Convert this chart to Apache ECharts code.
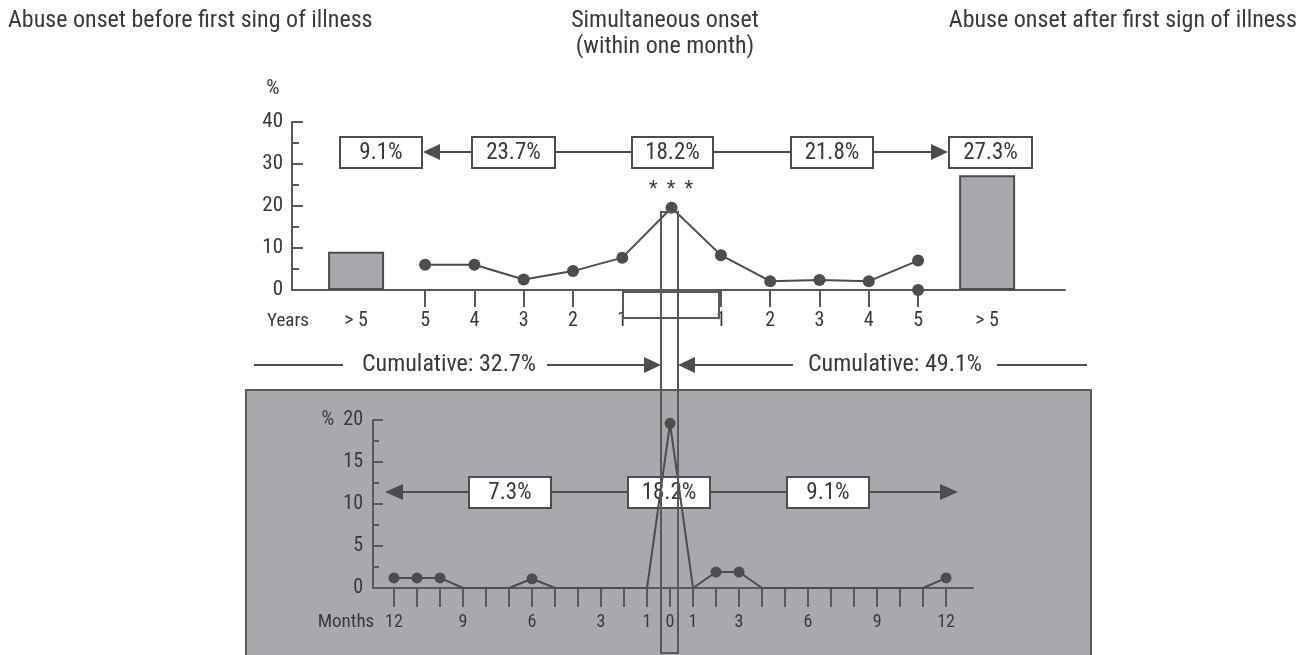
<!DOCTYPE html>
<html><head><meta charset="utf-8">
<script src="https://cdn.jsdelivr.net/npm/echarts@6/dist/echarts.min.js"></script>
<style>html,body{margin:0;padding:0;background:#fff}#c{width:1308px;height:655px}</style>
</head><body><div id="c"></div>
<script>
// ---------- data ----------
const yearsBefore = [-5, -4, -3, -2, -1];
const pctYearsBefore = [6.0, 6.0, 2.5, 4.5, 7.7];
const pctSimultaneous = 19.6;
const yearsAfter = [1, 2, 3, 4, 5];
const pctYearsAfter = [8.3, 2.1, 2.4, 2.1, 7.0];
const pctYear5AfterSecond = 0;
const pctOver5Before = 9.1;
const pctOver5After = 27.3;
const yearShareLabels = ['9.1%', '23.7%', '18.2%', '21.8%', '27.3%'];
const months = [-12,-11,-10,-9,-8,-7,-6,-5,-4,-3,-2,-1,0,1,2,3,4,5,6,7,8,9,10,11,12];
const pctMonths = [1.2,1.2,1.2,0,0,0,1.1,0,0,0,0,0,19.6,0,1.9,1.9,0,0,0,0,0,0,0,0,1.2];
const monthShareLabels = ['7.3%', '18.2%', '9.1%'];
const monthLabelValues = [-12,-9,-6,-3,-1,0,1,3,6,9,12];
const yearTickValues = [-5,-4,-3,-2,-1,1,2,3,4,5];
const cumulativeLabels = ['Cumulative: 32.7%', 'Cumulative: 49.1%'];
const headerLeft = 'Abuse onset before first sing of illness';
const headerMid = ['Simultaneous onset', '(within one month)'];
const headerRight = 'Abuse onset after first sign of illness';

// ---------- layout / style ----------
const FONT = "'Roboto Condensed', 'Liberation Sans Narrow', Roboto, sans-serif";
const TXT = '#3a3a3a';
const DARK = '#4d4d4f';
const GRAYFILL = '#a7a9ac';
const OVER5 = 6.4; // axis position used for the "> 5" bars

const chart = echarts.init(document.getElementById('c'), null, {renderer: 'canvas'});

function tri(tipX, y, dir, len, half) {
  const bx = tipX - dir * len;
  return {type: 'polygon', z: 30, shape: {points: [[tipX, y], [bx, y - half], [bx, y + half]]}, style: {fill: DARK}};
}
function hline(x1, x2, y) {
  return {type: 'line', z: 25, shape: {x1, y1: y, x2, y2: y}, style: {stroke: DARK, lineWidth: 2}};
}
function box(x1, x2, y1, y2, text) {
  return {type: 'group', z: 30, children: [
    {type: 'rect', z: 30, shape: {x: x1, y: y1, width: x2 - x1, height: y2 - y1}, style: {fill: '#fff', stroke: DARK, lineWidth: 2}},
    {type: 'text', z: 31, x: (x1 + x2) / 2, y: (y1 + y2) / 2 + 1, style: {text, fill: TXT, font: '23px ' + FONT, textAlign: 'center', textVerticalAlign: 'middle'}}
  ]};
}
function txt(x, y, text, align, size) {
  return {type: 'text', z: 30, x, y, style: {text, fill: TXT, font: (size || 19) + 'px ' + FONT, textAlign: align || 'center', textVerticalAlign: 'middle'}};
}

const graphics = [];
// grey panel behind the monthly chart
graphics.push({type: 'rect', z: -10, shape: {x: 246, y: 390, width: 845, height: 300}, style: {fill: GRAYFILL, stroke: '#58595b', lineWidth: 2}});
// headers
graphics.push(txt(8, 21, headerLeft, 'left', 24));
graphics.push(txt(665, 21, headerMid[0], 'center', 24));
graphics.push(txt(665, 47, headerMid[1], 'center', 24));
graphics.push(txt(1297, 21, headerRight, 'right', 24));
// axis extras
graphics.push(txt(273, 89, '%', 'center', 21));
graphics.push(txt(288, 321, 'Years', 'center', 19));
graphics.push(txt(346, 622, 'Months', 'center', 19));
graphics.push(txt(671, 190, '*  *  *', 'center', 20));
// top share row
const yT = 152, tb1 = 137, tb2 = 168;
graphics.push(tri(423, yT, -1, 17, 8));
graphics.push(hline(440, 472, yT));
graphics.push(hline(555, 632, yT));
graphics.push(hline(713, 791, yT));
graphics.push(hline(873, 932, yT));
graphics.push(tri(948, yT, 1, 17, 8));
const topBoxes = [[340, 422], [472, 555], [632, 713], [791, 873], [949, 1032]];
topBoxes.forEach((b, i) => graphics.push(box(b[0], b[1], tb1, tb2, yearShareLabels[i])));
// cumulative row
const yC = 365;
graphics.push(hline(254, 343, yC));
graphics.push(txt(449, yC, cumulativeLabels[0], 'center', 24));
graphics.push(hline(547, 645, yC));
graphics.push(tri(661, yC, 1, 17, 8));
graphics.push(tri(678, yC, -1, 17, 8));
graphics.push(hline(695, 793, yC));
graphics.push(txt(895, yC, cumulativeLabels[1], 'center', 24));
graphics.push(hline(997, 1087, yC));
// bottom share row
const yB = 492, bb1 = 477, bb2 = 508;
graphics.push(tri(385, yB, -1, 18, 8));
graphics.push(hline(402, 469, yB));
graphics.push(hline(551, 628, yB));
graphics.push(hline(710, 787, yB));
graphics.push(hline(869, 941, yB));
graphics.push(tri(958, yB, 1, 18, 8));
const botBoxes = [[469, 551], [628, 710], [787, 869]];
botBoxes.forEach((b, i) => graphics.push(box(b[0], b[1], bb1, bb2, monthShareLabels[i])));
// bracket for "within one year" and zoom column
graphics.push({type: 'rect', z: 40, shape: {x: 623, y: 292, width: 96, height: 26}, style: {fill: 'none', stroke: '#58595b', lineWidth: 2}});
graphics.push({type: 'rect', z: 40, shape: {x: 661, y: 212, width: 17, height: 441}, style: {fill: 'none', stroke: '#58595b', lineWidth: 2}});

const xAxisLine = {show: true, onZero: false, lineStyle: {color: '#58595b', width: 2}};
const yAxisLine = {show: true, onZero: false, lineStyle: {color: '#58595b', width: 2}};

const yearLineData = yearsBefore.map((x, i) => [x, pctYearsBefore[i]])
  .concat([[0, pctSimultaneous]])
  .concat(yearsAfter.map((x, i) => [x, pctYearsAfter[i]]));

const option = {
  animation: false,
  backgroundColor: '#fff',
  textStyle: {fontFamily: FONT, color: TXT},
  grid: [
    {left: 292, top: 122, width: 773, height: 168},
    {left: 373, top: 420, width: 600, height: 168}
  ],
  xAxis: [
    {
      type: 'value', gridIndex: 0, min: -7.7, max: 7.98,
      axisLine: xAxisLine,
      splitLine: {show: false},
      axisTick: {show: true, length: 17, customValues: yearTickValues, lineStyle: {color: '#58595b', width: 2}},
      axisLabel: {
        show: true, margin: 21, fontSize: 20, color: TXT, fontFamily: FONT,
        customValues: [-OVER5].concat(yearTickValues).concat([OVER5]),
        formatter: v => Math.abs(v) > 5.5 ? '> 5' : String(Math.abs(Math.round(v)))
      }
    },
    {
      type: 'value', gridIndex: 1, min: -12.913, max: 13.17,
      axisLine: xAxisLine,
      splitLine: {show: false},
      axisTick: {show: true, length: 19, customValues: months, lineStyle: {color: '#58595b', width: 2}},
      axisLabel: {
        show: true, margin: 25, fontSize: 18, color: TXT, fontFamily: FONT,
        customValues: monthLabelValues,
        formatter: v => String(Math.abs(Math.round(v)))
      }
    }
  ],
  yAxis: [
    {
      type: 'value', gridIndex: 0, min: 0, max: 40, interval: 10,
      axisLine: yAxisLine,
      splitLine: {show: false},
      axisTick: {show: true, inside: true, length: 11, lineStyle: {color: '#58595b', width: 2}},
      minorTick: {show: true, splitNumber: 2, length: 7, lineStyle: {color: '#58595b', width: 2}},
      axisLabel: {margin: 9, fontSize: 21, color: TXT, fontFamily: FONT}
    },
    {
      type: 'value', gridIndex: 1, min: 0, max: 20, interval: 5,
      axisLine: yAxisLine,
      splitLine: {show: false},
      axisTick: {show: true, inside: true, length: 10, lineStyle: {color: '#58595b', width: 2}},
      minorTick: {show: true, splitNumber: 2, length: 6, lineStyle: {color: '#58595b', width: 2}},
      axisLabel: {margin: 10, fontSize: 20, color: TXT, fontFamily: FONT,
        formatter: v => v === 20 ? '%  20' : String(v)}
    }
  ],
  series: [
    {
      type: 'bar', xAxisIndex: 0, yAxisIndex: 0, barWidth: 56,
      data: [[-OVER5, pctOver5Before], [OVER5, pctOver5After]],
      itemStyle: {color: GRAYFILL, borderColor: DARK, borderWidth: 2},
      z: 3
    },
    {
      type: 'line', xAxisIndex: 0, yAxisIndex: 0,
      data: yearLineData,
      symbol: 'circle', symbolSize: 12, showSymbol: true,
      lineStyle: {color: DARK, width: 2},
      itemStyle: {color: DARK},
      z: 5
    },
    {
      type: 'scatter', xAxisIndex: 0, yAxisIndex: 0,
      data: [[yearsAfter[yearsAfter.length - 1], pctYear5AfterSecond]],
      symbol: 'circle', symbolSize: 12,
      itemStyle: {color: DARK, opacity: 1}, z: 5
    },
    {
      type: 'line', xAxisIndex: 1, yAxisIndex: 1,
      data: months.map((m, i) => [m, pctMonths[i]]),
      symbol: 'circle',
      symbolSize: v => v[1] > 0 ? 11 : 0,
      showSymbol: true,
      lineStyle: {color: DARK, width: 2},
      itemStyle: {color: DARK},
      z: 35
    }
  ],
  graphic: {elements: graphics}
};
chart.setOption(option);
</script>
</body></html>
